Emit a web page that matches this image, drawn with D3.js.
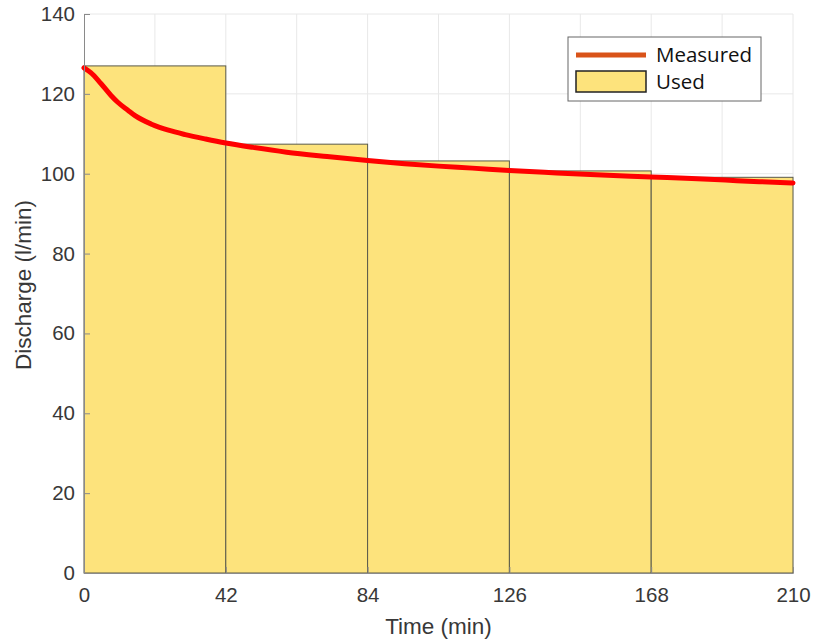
<!DOCTYPE html>
<html>
<head>
<meta charset="utf-8">
<script src="https://cdn.jsdelivr.net/npm/d3@7"></script>
<style>
  body { margin: 0; background: #fff; }
  svg { display: block; }
</style>
</head>
<body>
<script>
// bars: start time of each interval, width 42 min
const binStart = [0, 42, 84, 126, 168];
const binWidth = 42;
const usedValues = [127.0, 107.4, 103.2, 100.7, 99.1];

// measured curve
const measuredTime = [0, 2, 5, 8, 10, 13, 15, 20, 25, 30, 36, 42, 50, 60, 72, 84, 95, 105, 115, 126, 140, 150, 168, 180, 190, 200, 210];
const measuredValue = [126.5, 125.3, 122.6, 119.6, 117.9, 115.9, 114.6, 112.4, 110.9, 109.8, 108.7, 107.7, 106.6, 105.4, 104.3, 103.3, 102.5, 101.9, 101.4, 100.8, 100.2, 99.8, 99.2, 98.8, 98.4, 98.0, 97.7];

const xTicks = [0, 42, 84, 126, 168, 210];
const yTicks = [0, 20, 40, 60, 80, 100, 120, 140];
const xGrid = [21, 42, 63, 84, 105, 126, 147, 168, 189, 210];

const width = 814, height = 641;
const margin = {left: 84, top: 14, right: 21, bottom: 68};
const innerWidth = width - margin.left - margin.right;
const innerHeight = height - margin.top - margin.bottom;

const svg = d3.select('body').append('svg')
  .attr('width', width)
  .attr('height', height);

const g = svg.append('g')
  .attr('transform', `translate(${margin.left},${margin.top})`);

const xScale = d3.scaleLinear().domain([0, 210]).range([0, innerWidth]);
const yScale = d3.scaleLinear().domain([0, 140]).range([innerHeight, 0]);

// grid
g.append('g').selectAll('line')
  .data(xGrid)
  .join('line')
    .attr('x1', d => xScale(d)).attr('x2', d => xScale(d))
    .attr('y1', 0).attr('y2', innerHeight)
    .attr('stroke', '#e8e8e8').attr('stroke-width', 1);

g.append('g').selectAll('line')
  .data(yTicks.filter(d => d > 0))
  .join('line')
    .attr('x1', 0).attr('x2', innerWidth)
    .attr('y1', d => yScale(d)).attr('y2', d => yScale(d))
    .attr('stroke', '#e8e8e8').attr('stroke-width', 1);

// bars
g.append('g').selectAll('rect')
  .data(binStart)
  .join('rect')
    .attr('x', d => xScale(d))
    .attr('y', (d, i) => yScale(usedValues[i]))
    .attr('width', xScale(binWidth) - xScale(0))
    .attr('height', (d, i) => yScale(0) - yScale(usedValues[i]))
    .attr('fill', '#fde37c')
    .attr('stroke', '#5a5a4a')
    .attr('stroke-width', 1);

// measured line
const line = d3.line()
  .x((d, i) => xScale(measuredTime[i]))
  .y(d => yScale(d))
  .curve(d3.curveMonotoneX);

g.append('path')
  .datum(measuredValue)
  .attr('d', line)
  .attr('fill', 'none')
  .attr('stroke', '#ff0000')
  .attr('stroke-width', 5)
  .attr('stroke-linecap', 'round');

// axes
const xAxis = d3.axisBottom(xScale).tickValues(xTicks).tickSizeInner(-6).tickSizeOuter(0).tickPadding(14.5);
const yAxis = d3.axisLeft(yScale).tickValues(yTicks).tickSizeInner(-6).tickSizeOuter(0).tickPadding(9);

const xAxisG = g.append('g')
  .attr('transform', `translate(0,${innerHeight})`)
  .call(xAxis);
const yAxisG = g.append('g').call(yAxis);

[xAxisG, yAxisG].forEach(a => {
  a.select('.domain').attr('stroke', '#8a8a8a');
  a.selectAll('.tick line').attr('stroke', '#8a8a8a');
  a.selectAll('.tick text')
    .attr('fill', '#383838')
    .style('font-family', '"Liberation Sans", Arial, sans-serif')
    .style('font-size', '20.5px');
});

svg.append('text')
  .attr('x', margin.left + innerWidth / 2)
  .attr('y', 634)
  .attr('text-anchor', 'middle')
  .attr('fill', '#383838')
  .style('font-family', '"Liberation Sans", Arial, sans-serif')
  .style('font-size', '22.5px')
  .text('Time (min)');

svg.append('text')
  .attr('transform', `translate(31,${285}) rotate(-90)`)
  .attr('text-anchor', 'middle')
  .attr('fill', '#383838')
  .style('font-family', '"Liberation Sans", Arial, sans-serif')
  .style('font-size', '22.5px')
  .text('Discharge (l/min)');

// legend
const legend = svg.append('g').attr('transform', 'translate(568,37)');
legend.append('rect')
  .attr('width', 193).attr('height', 64)
  .attr('fill', '#fff')
  .attr('stroke', '#666').attr('stroke-width', 1);

legend.append('line')
  .attr('x1', 8).attr('x2', 78)
  .attr('y1', 18).attr('y2', 18)
  .attr('stroke', '#d95319').attr('stroke-width', 5);

legend.append('rect')
  .attr('x', 8).attr('y', 34)
  .attr('width', 70).attr('height', 21)
  .attr('fill', '#fde37c')
  .attr('stroke', '#222').attr('stroke-width', 1.5);

legend.selectAll('text.lbl')
  .data(['Measured', 'Used'])
  .join('text')
    .attr('x', 88)
    .attr('y', (d, i) => 25 + i * 27)
    .attr('fill', '#111')
    .style('font-family', '"Open Sans", Lato, sans-serif')
    .style('font-size', '20.5px')
    .text(d => d);
</script>
</body>
</html>
